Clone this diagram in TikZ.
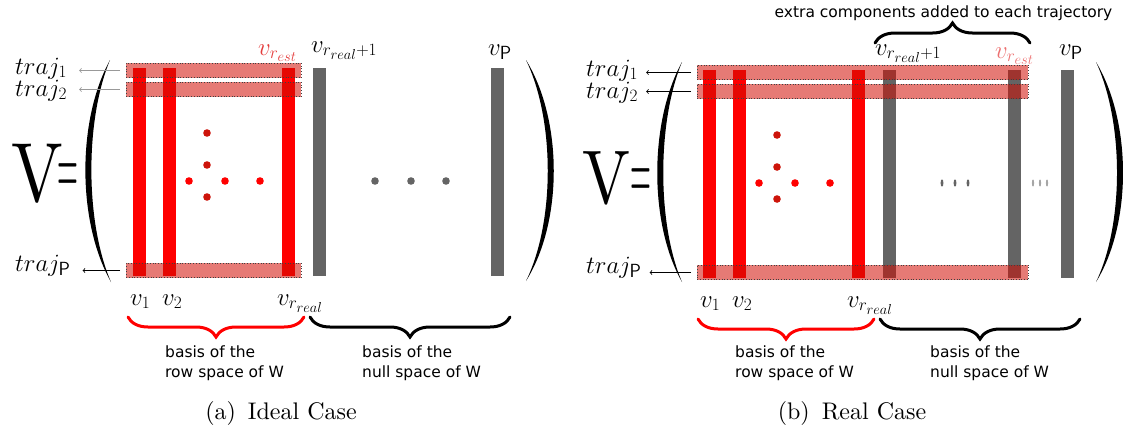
\documentclass[tikz,border=0pt]{standalone}
\usepackage{amsmath}
\usepackage{fontspec}
\newfontfamily\notefont{DejaVu Sans}
\newfontfamily\tenfont{lmroman10-regular}[Extension=.otf]
\DeclareMathSizes{24}{24}{19}{15}
\usetikzlibrary{decorations.pathreplacing}
\definecolor{bandred}{RGB}{209,13,4}
\definecolor{dotred}{RGB}{205,20,10}
\definecolor{colgray}{RGB}{100,100,100}
\definecolor{estred}{RGB}{228,60,60}
\definecolor{estpink}{RGB}{236,112,112}
\tikzset{
  band/.style={draw=black!75, dotted, line width=0.7pt, fill=bandred, fill opacity=0.55,
    minimum height=14.5pt, inner sep=0pt, anchor=west},
  trajarrow/.style={->, line width=0.8pt, shorten <=6pt},
  mlabel/.style={font=\fontsize{24}{24}\selectfont, inner sep=0pt, anchor=base west},
  note/.style={font=\notefont\fontsize{15.5}{20}\selectfont, align=left, inner sep=0pt, anchor=north west},
  bigV/.style={font=\tenfont\fontsize{84}{84}\selectfont, inner sep=0pt, anchor=base},
  caption/.style={font=\tenfont\fontsize{24}{24}\selectfont, anchor=base},
  curlydown/.style={decorate, decoration={brace, mirror, amplitude=20pt}, line width=3pt, line cap=round},
  curlyup/.style={decorate, decoration={brace, amplitude=20pt}, line width=3pt, line cap=round},
}
\begin{document}
\begin{tikzpicture}[x=1pt,y=-1pt]
\useasboundingbox (0,0) rectangle (1123,432);
        % (a) ideal case
        \begin{scope}
    \foreach \c in {139.5,169.5,288}{
        \fill[red] (\c-6.5,68) rectangle (\c+6.5,276);
    }
    \foreach \c in {319.5,497.5}{
        \fill[colgray] (\c-6.5,68) rectangle (\c+6.5,276);
    }
        \node[band, minimum width=175pt] (a-row1) at (126,70.5) {};
        \node[band, minimum width=175pt] (a-row2) at (126,89.5) {};
        \node[band, minimum width=175pt] (a-rowP) at (126,270.5) {};
    \foreach \y in {133,165,197}{
        \fill[dotred] (207,\y) circle (3.8);
    }
    \foreach \x in {189,225,260}{
        \fill[red] (\x,181) circle (3.8);
    }
    \foreach \x in {375,411,446}{
        \fill[colgray] (\x,181) circle (3.8);
    }
        \fill (110,60) .. controls (77,120) and (77,222) .. (111,282) .. controls (85,222) and (85,120) .. cycle;
        \fill (526,60) .. controls (563,120) and (563,222) .. (526,281) .. controls (555,222) and (555,120) .. cycle;
        \node[bigV, xscale=0.82] (a-V) at (37,201) {V};
        \node[bigV, xscale=0.32] (a-eq) at (68,194) {=};
        \node[mlabel] (a-traj1) at (15,74) {$traj_1$};
        \node[mlabel] (a-traj2) at (15,96) {$traj_2$};
        \node[mlabel] (a-trajP) at (15,271) {$traj_{\mathsf{P}}$};
        \draw[trajarrow, black!40, shorten >=12pt] (a-row1.west) -- (a-row1.west -| a-traj1.east);
        \draw[trajarrow, black!40, shorten >=12pt] (a-row2.west) -- (a-row2.west -| a-traj2.east);
        \draw[trajarrow, shorten >=12pt] (a-rowP.west) -- (a-rowP.west -| a-trajP.east);
        \node[mlabel, text=estred] (a-vest) at (258,55) {$v_{r_{est}}$};
        \node[mlabel] (a-vnext) at (311,52) {$v_{r_{real}+1}$};
        \node[mlabel] (a-vP) at (488,55) {$v_{\mathsf{P}}$};
        \node[mlabel] (a-v1) at (130,305) {$v_1$};
        \node[mlabel] (a-v2) at (162,305) {$v_2$};
        \node[mlabel] (a-vreal) at (277,305) {$v_{r_{real}}$};
        \draw[curlydown, red] (128,317) -- (304,317);
        \draw[curlydown] (310,317) -- (510,317);
        \node[note] (a-rownote) at (165,346) {basis of the\\row space of W};
        \node[note] (a-nullnote) at (362,346) {basis of the\\null space of W};
        \node[caption] (a-cap) at (281,419) {(a)\enspace Ideal Case};
        \end{scope}
        % (b) real case
        \begin{scope}[shift={(570,2)}]
    \foreach \c in {139.5,169.5,288}{
        \fill[red] (\c-6.5,68) rectangle (\c+6.5,276);
    }
    \foreach \c in {319.5,444,497.5}{
        \fill[colgray] (\c-6.5,68) rectangle (\c+6.5,276);
    }
        \node[band, minimum width=331pt] (b-row1) at (127,70.5) {};
        \node[band, minimum width=331pt] (b-row2) at (127,89.5) {};
        \node[band, minimum width=331pt] (b-rowP) at (127,270.5) {};
    \foreach \y in {133,165,197}{
        \fill[dotred] (207,\y) circle (3.8);
    }
    \foreach \x in {189,225,260}{
        \fill[red] (\x,181) circle (3.8);
    }
    \foreach \x in {372,385,398}{
        \fill[colgray] (\x,181) ellipse (1.4 and 3.6);
    }
    \foreach \x in {463,470,477}{
        \fill[black!35] (\x,181) ellipse (1.1 and 3.6);
    }
        \fill (112,60) .. controls (79,120) and (79,222) .. (112,280) .. controls (87,222) and (87,120) .. cycle;
        \fill (526,60) .. controls (562,120) and (562,222) .. (526,280) .. controls (554,222) and (554,120) .. cycle;
        \node[bigV, font=\tenfont\fontsize{76}{76}\selectfont, xscale=0.84] (b-V) at (36.5,201) {V};
        \node[bigV, xscale=0.32] (b-eq) at (71,197) {=};
        \node[mlabel] (b-traj1) at (16,74) {$traj_1$};
        \node[mlabel] (b-traj2) at (16,96) {$traj_2$};
        \node[mlabel] (b-trajP) at (16,271) {$traj_{\mathsf{P}}$};
        \draw[trajarrow, shorten >=8pt] (b-row1.west) -- (b-row1.west -| b-traj1.east);
        \draw[trajarrow, shorten >=8pt] (b-row2.west) -- (b-row2.west -| b-traj2.east);
        \draw[trajarrow, shorten >=8pt] (b-rowP.west) -- (b-rowP.west -| b-trajP.east);
        \node[mlabel] (b-vnext) at (305,53) {$v_{r_{real}+1}$};
        \node[mlabel, text=estpink] (b-vest) at (425,56) {$v_{r_{est}}$};
        \node[mlabel] (b-vP) at (489,53) {$v_{\mathsf{P}}$};
        \draw[curlyup] (305,41) -- (460,41);
        \node[font=\notefont\fontsize{15.5}{18}\selectfont, anchor=base] (b-extra) at (373.5,15) {extra components added to each trajectory};
        \node[mlabel] (b-v1) at (130,305) {$v_1$};
        \node[mlabel] (b-v2) at (162,305) {$v_2$};
        \node[mlabel] (b-vreal) at (277,305) {$v_{r_{real}}$};
        \draw[curlydown, red] (128,317) -- (304,317);
        \draw[curlydown] (310,317) -- (510,317);
        \node[note] (b-rownote) at (165,344) {basis of the\\row space of W};
        \node[note] (b-nullnote) at (360,344) {basis of the\\null space of W};
        \node[caption] (b-cap) at (282,417) {(b)\enspace Real Case};
        \end{scope}
        \end{tikzpicture}
\end{document}
